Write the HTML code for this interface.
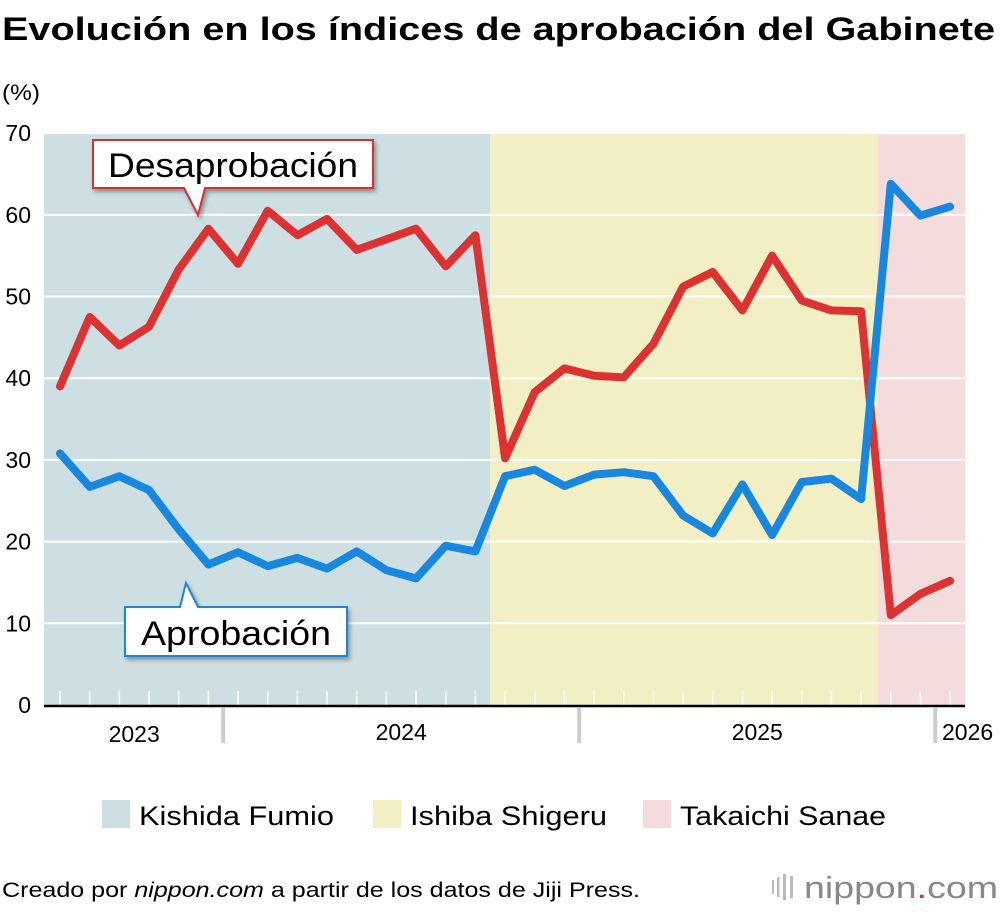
<!DOCTYPE html>
<html><head><meta charset="utf-8"><style>
body{margin:0;background:#fff;font-family:"Liberation Sans",sans-serif;}
svg text{font-family:"Liberation Sans",sans-serif;}
</style></head><body>
<svg width="1000" height="910" viewBox="0 0 1000 910">
<text x="2" y="40" font-size="32" font-weight="bold" fill="#000" textLength="993" lengthAdjust="spacingAndGlyphs">Evolución en los índices de aprobación del Gabinete</text>
<text x="2" y="100" font-size="22" fill="#000" textLength="38" lengthAdjust="spacingAndGlyphs">(%)</text>
<g id="bg"></g><g id="grid"></g><g id="axes"></g><g id="lines"></g>
<g>
<path d="M93,140 H373 V188 H205 L198,215 L184,188 H93 Z" fill="#fff" stroke="#d63030" stroke-width="2" style="filter:drop-shadow(2px 3px 2px rgba(0,0,0,0.35))"/>
<text x="108" y="177" font-size="34" textLength="250" lengthAdjust="spacingAndGlyphs" fill="#000">Desaprobación</text>
</g>
<g>
<path d="M125,607 H180 L186,583 L198,607 H347 V656 H125 Z" fill="#fff" stroke="#1a88d8" stroke-width="2" style="filter:drop-shadow(2px 3px 2px rgba(0,0,0,0.35))"/>
<text x="141" y="645" font-size="34" textLength="190" lengthAdjust="spacingAndGlyphs" fill="#000">Aprobación</text>
</g>
<g>
<rect x="102" y="800" width="28" height="28" fill="#cedfe3"/>
<text x="139" y="825" font-size="27" textLength="195" lengthAdjust="spacingAndGlyphs">Kishida Fumio</text>
<rect x="373" y="800" width="28" height="28" fill="#f2efc4"/>
<text x="410" y="825" font-size="27" textLength="197" lengthAdjust="spacingAndGlyphs">Ishiba Shigeru</text>
<rect x="643" y="800" width="28" height="28" fill="#f4dcdc"/>
<text x="680" y="825" font-size="27" textLength="206" lengthAdjust="spacingAndGlyphs">Takaichi Sanae</text>
</g>
<text x="2" y="897" font-size="21" textLength="638" lengthAdjust="spacingAndGlyphs">Creado por <tspan font-style="italic">nippon.com</tspan> a partir de los datos de Jiji Press.</text>
<g>
<g fill="#bbb"><rect x="772" y="880" width="2" height="14"/><rect x="777" y="877" width="2.5" height="20"/><rect x="783" y="874" width="3" height="26"/><rect x="790" y="876" width="3" height="22"/></g>
<text x="804" y="898" font-size="31" fill="#888" textLength="194" lengthAdjust="spacingAndGlyphs">nippon<tspan fill="#d63030">.</tspan>com</text>
</g>
</svg>
<script>
const yTicks=[0,10,20,30,40,50,60,70];
const disapproval=[39,47.5,44,46.3,53.3,58.3,54,60.5,57.5,59.5,55.7,57,58.3,53.7,57.5,30.2,38.3,41.2,40.3,40.1,44.2,51.2,53,48.3,55,49.5,48.3,48.2,11,13.6,15.2];
const approval=[30.8,26.7,28,26.3,21.5,17.2,18.7,17,18,16.7,18.8,16.5,15.5,19.5,18.8,28,28.8,26.8,28.2,28.5,28,23.2,21,27,20.8,27.3,27.7,25.2,63.8,59.9,61];
const yearLabels=["2023","2024","2025","2026"];
const yearLabelIdx=[2.5,11.5,23.5,30.5];
const yearSepIdx=[5.5,17.5,29.5];
const periods=[{name:"kishida",from:-0.55,to:14.5,color:"#cedfe3"},{name:"ishiba",from:14.5,to:27.55,color:"#f2efc4"},{name:"takaichi",from:27.55,to:30.55,color:"#f4dcdc"}];
const NS="http://www.w3.org/2000/svg";
const X0=60,DX=29.67,Y0=705,PY=8.17;
const x=i=>X0+i*DX, y=v=>Y0-v*PY;
function mk(p,t,a){const e=document.createElementNS(NS,t);for(const k in a)e.setAttribute(k,a[k]);document.getElementById(p).appendChild(e);return e;}
periods.forEach(p=>{const r=mk("bg","rect",{x:Math.max(44,x(p.from)),y:y(70),width:Math.min(965,x(p.to))-Math.max(44,x(p.from)),height:y(0)-y(70),fill:p.color});

});
yTicks.forEach(t=>{if(t>0){const l=mk("grid","line",{x1:44,x2:965,y1:y(t),y2:y(t),stroke:"#fff","stroke-width":2});

}
const tx=mk("axes","text",{x:31,y:y(t)+8,"font-size":23,"text-anchor":"end"});tx.textContent=t;

});
for(let i=0;i<disapproval.length;i++){const l=mk("grid","line",{x1:x(i),x2:x(i),y1:y(0)-14,y2:y(0),stroke:"#fff","stroke-width":1.5});

}
const ax=mk("axes","line",{x1:44,x2:965,y1:y(0)+1,y2:y(0)+1,stroke:"#000","stroke-width":2.5});


yearSepIdx.forEach(i=>{const l=mk("axes","line",{x1:x(i),x2:x(i),y1:y(0)+3,y2:y(0)+38,stroke:"#ccc","stroke-width":4});

});
yearLabels.forEach((s,k)=>{const last=k==yearLabels.length-1;const tx=mk("axes","text",{x:last?942:x(yearLabelIdx[k]),y:k==0?742:740,"font-size":23,"text-anchor":last?"start":"middle"});tx.textContent=s;

});
function line(vals,color,name){const d=vals.map((v,i)=>(i?"L":"M")+x(i).toFixed(1)+","+y(v).toFixed(1)).join(" ");
const p=mk("lines","path",{d:d,fill:"none",stroke:color,"stroke-width":8,"stroke-linejoin":"round","stroke-linecap":"round"});

}
line(disapproval,"#dc3232","disapproval-line");
line(approval,"#1787e0","approval-line");
</script>
</body></html>
